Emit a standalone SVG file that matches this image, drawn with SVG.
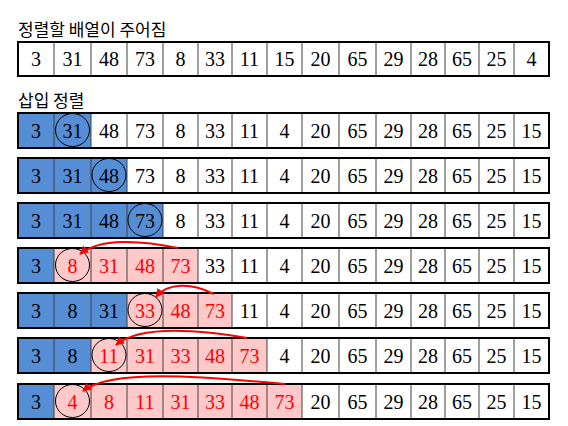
<svg xmlns="http://www.w3.org/2000/svg" width="568" height="426" viewBox="0 0 568 426">
<defs>
<style>
.bg{fill:#fff}
.b{fill:#558ed5}
.p{fill:#ffc9c9}
.ln{fill:none;stroke:#404040;stroke-width:1}
.o{fill:none;stroke:#000;stroke-width:2}
.t{font-family:"Liberation Serif","Times New Roman",serif;font-size:20px;text-anchor:middle;fill:#000}
.t .r{fill:#ff0000}
.h{font-family:"Noto Sans CJK KR","Noto Sans",sans-serif;font-size:17px;fill:#000}
.e{fill:none;stroke:#000;stroke-width:1}
.a{fill:none;stroke:#ff0000;stroke-width:2}
</style>
<marker id="ah" viewBox="0 0 10 10" refX="9" refY="5" markerWidth="4.5" markerHeight="4.5" orient="auto" markerUnits="strokeWidth">
<path d="M0,0 L10,5 L0,10 Z" fill="#ff0000"/>
</marker>
</defs>
<rect width="568" height="426" fill="#fff"/>
<text class="h" x="18" y="36">정렬할 배열이 주어짐</text>
<text class="h" x="18" y="107">삽입 정렬</text>

<g id="given">
<rect class="bg" x="18" y="42" width="531" height="34"/>
<path class="ln" d="M54,42v34M91,42v34M127,42v34M163,42v34M198,42v34M232,42v34M267,42v34M302,42v34M339,42v34M376,42v34M411,42v34M445,42v34M479,42v34M514,42v34"/>
<rect class="o" x="18" y="42" width="531" height="34"/>
<g class="t"><text x="36" y="66">3</text><text x="72.5" y="66">31</text><text x="109" y="66">48</text><text x="145" y="66">73</text><text x="180.5" y="66">8</text><text x="215" y="66">33</text><text x="249.5" y="66">11</text><text x="284.5" y="66">15</text><text x="320.5" y="66">20</text><text x="357.5" y="66">65</text><text x="393.5" y="66">29</text><text x="428" y="66">28</text><text x="462" y="66">65</text><text x="496.5" y="66">25</text><text x="531.5" y="66">4</text></g>
</g>

<g id="step1">
<rect class="bg" x="18" y="113" width="531" height="35"/>
<rect class="b" x="18" y="113" width="73" height="35"/>
<path class="ln" d="M54,113v35M91,113v35M127,113v35M163,113v35M198,113v35M232,113v35M267,113v35M302,113v35M339,113v35M376,113v35M411,113v35M445,113v35M479,113v35M514,113v35"/>
<rect class="o" x="18" y="113" width="531" height="35"/>
<g class="t"><text x="36" y="138">3</text><text x="72.5" y="138">31</text><text x="109" y="138">48</text><text x="145" y="138">73</text><text x="180.5" y="138">8</text><text x="215" y="138">33</text><text x="249.5" y="138">11</text><text x="284.5" y="138">4</text><text x="320.5" y="138">20</text><text x="357.5" y="138">65</text><text x="393.5" y="138">29</text><text x="428" y="138">28</text><text x="462" y="138">65</text><text x="496.5" y="138">25</text><text x="531.5" y="138">15</text></g>
<ellipse class="e" cx="72.5" cy="130" rx="17" ry="16.5"/>
</g>

<g id="step2">
<rect class="bg" x="18" y="158" width="531" height="35"/>
<rect class="b" x="18" y="158" width="109" height="35"/>
<path class="ln" d="M54,158v35M91,158v35M127,158v35M163,158v35M198,158v35M232,158v35M267,158v35M302,158v35M339,158v35M376,158v35M411,158v35M445,158v35M479,158v35M514,158v35"/>
<rect class="o" x="18" y="158" width="531" height="35"/>
<g class="t"><text x="36" y="183">3</text><text x="72.5" y="183">31</text><text x="109" y="183">48</text><text x="145" y="183">73</text><text x="180.5" y="183">8</text><text x="215" y="183">33</text><text x="249.5" y="183">11</text><text x="284.5" y="183">4</text><text x="320.5" y="183">20</text><text x="357.5" y="183">65</text><text x="393.5" y="183">29</text><text x="428" y="183">28</text><text x="462" y="183">65</text><text x="496.5" y="183">25</text><text x="531.5" y="183">15</text></g>
<ellipse class="e" cx="109" cy="175" rx="17" ry="16.5"/>
</g>

<g id="step3">
<rect class="bg" x="18" y="203" width="531" height="35"/>
<rect class="b" x="18" y="203" width="145" height="35"/>
<path class="ln" d="M54,203v35M91,203v35M127,203v35M163,203v35M198,203v35M232,203v35M267,203v35M302,203v35M339,203v35M376,203v35M411,203v35M445,203v35M479,203v35M514,203v35"/>
<rect class="o" x="18" y="203" width="531" height="35"/>
<g class="t"><text x="36" y="228">3</text><text x="72.5" y="228">31</text><text x="109" y="228">48</text><text x="145" y="228">73</text><text x="180.5" y="228">8</text><text x="215" y="228">33</text><text x="249.5" y="228">11</text><text x="284.5" y="228">4</text><text x="320.5" y="228">20</text><text x="357.5" y="228">65</text><text x="393.5" y="228">29</text><text x="428" y="228">28</text><text x="462" y="228">65</text><text x="496.5" y="228">25</text><text x="531.5" y="228">15</text></g>
<ellipse class="e" cx="145" cy="220" rx="17" ry="16.5"/>
</g>

<g id="step4">
<rect class="bg" x="18" y="248" width="531" height="35"/>
<rect class="b" x="18" y="248" width="36" height="35"/>
<rect class="p" x="54" y="248" width="144" height="35"/>
<path class="ln" d="M54,248v35M91,248v35M127,248v35M163,248v35M198,248v35M232,248v35M267,248v35M302,248v35M339,248v35M376,248v35M411,248v35M445,248v35M479,248v35M514,248v35"/>
<rect class="o" x="18" y="248" width="531" height="35"/>
<g class="t"><text x="36" y="273">3</text><text class="r" x="72.5" y="273">8</text><text class="r" x="109" y="273">31</text><text class="r" x="145" y="273">48</text><text class="r" x="180.5" y="273">73</text><text x="215" y="273">33</text><text x="249.5" y="273">11</text><text x="284.5" y="273">4</text><text x="320.5" y="273">20</text><text x="357.5" y="273">65</text><text x="393.5" y="273">29</text><text x="428" y="273">28</text><text x="462" y="273">65</text><text x="496.5" y="273">25</text><text x="531.5" y="273">15</text></g>
<ellipse class="e" cx="72.5" cy="265" rx="17" ry="16.5"/>
</g>

<g id="step5">
<rect class="bg" x="18" y="293" width="531" height="35"/>
<rect class="b" x="18" y="293" width="109" height="35"/>
<rect class="p" x="127" y="293" width="105" height="35"/>
<path class="ln" d="M54,293v35M91,293v35M127,293v35M163,293v35M198,293v35M232,293v35M267,293v35M302,293v35M339,293v35M376,293v35M411,293v35M445,293v35M479,293v35M514,293v35"/>
<rect class="o" x="18" y="293" width="531" height="35"/>
<g class="t"><text x="36" y="318">3</text><text x="72.5" y="318">8</text><text x="109" y="318">31</text><text class="r" x="145" y="318">33</text><text class="r" x="180.5" y="318">48</text><text class="r" x="215" y="318">73</text><text x="249.5" y="318">11</text><text x="284.5" y="318">4</text><text x="320.5" y="318">20</text><text x="357.5" y="318">65</text><text x="393.5" y="318">29</text><text x="428" y="318">28</text><text x="462" y="318">65</text><text x="496.5" y="318">25</text><text x="531.5" y="318">15</text></g>
<ellipse class="e" cx="145" cy="310" rx="17" ry="16.5"/>
</g>

<g id="step6">
<rect class="bg" x="18" y="338" width="531" height="35"/>
<rect class="b" x="18" y="338" width="73" height="35"/>
<rect class="p" x="91" y="338" width="176" height="35"/>
<path class="ln" d="M54,338v35M91,338v35M127,338v35M163,338v35M198,338v35M232,338v35M267,338v35M302,338v35M339,338v35M376,338v35M411,338v35M445,338v35M479,338v35M514,338v35"/>
<rect class="o" x="18" y="338" width="531" height="35"/>
<g class="t"><text x="36" y="363">3</text><text x="72.5" y="363">8</text><text class="r" x="109" y="363">11</text><text class="r" x="145" y="363">31</text><text class="r" x="180.5" y="363">33</text><text class="r" x="215" y="363">48</text><text class="r" x="249.5" y="363">73</text><text x="284.5" y="363">4</text><text x="320.5" y="363">20</text><text x="357.5" y="363">65</text><text x="393.5" y="363">29</text><text x="428" y="363">28</text><text x="462" y="363">65</text><text x="496.5" y="363">25</text><text x="531.5" y="363">15</text></g>
<ellipse class="e" cx="109" cy="355" rx="17" ry="16.5"/>
</g>

<g id="step7">
<rect class="bg" x="18" y="384" width="531" height="35"/>
<rect class="b" x="18" y="384" width="36" height="35"/>
<rect class="p" x="54" y="384" width="248" height="35"/>
<path class="ln" d="M54,384v35M91,384v35M127,384v35M163,384v35M198,384v35M232,384v35M267,384v35M302,384v35M339,384v35M376,384v35M411,384v35M445,384v35M479,384v35M514,384v35"/>
<rect class="o" x="18" y="384" width="531" height="35"/>
<g class="t"><text x="36" y="409">3</text><text class="r" x="72.5" y="409">4</text><text class="r" x="109" y="409">8</text><text class="r" x="145" y="409">11</text><text class="r" x="180.5" y="409">31</text><text class="r" x="215" y="409">33</text><text class="r" x="249.5" y="409">48</text><text class="r" x="284.5" y="409">73</text><text x="320.5" y="409">20</text><text x="357.5" y="409">65</text><text x="393.5" y="409">29</text><text x="428" y="409">28</text><text x="462" y="409">65</text><text x="496.5" y="409">25</text><text x="531.5" y="409">15</text></g>
<ellipse class="e" cx="72.5" cy="401" rx="17" ry="16.5"/>
</g>

<g id="connectors">
<path class="a" marker-end="url(#ah)" d="M178,248 C140,240 100,238 80,254"/>
<path class="a" marker-end="url(#ah)" d="M214,294 C192,283 168,282 156,297"/>
<path class="a" marker-end="url(#ah)" d="M247,338 C200,330 140,325 116,345"/>
<path class="a" marker-end="url(#ah)" d="M285,384 C200,376 110,369 83,391"/>
</g>
</svg>
